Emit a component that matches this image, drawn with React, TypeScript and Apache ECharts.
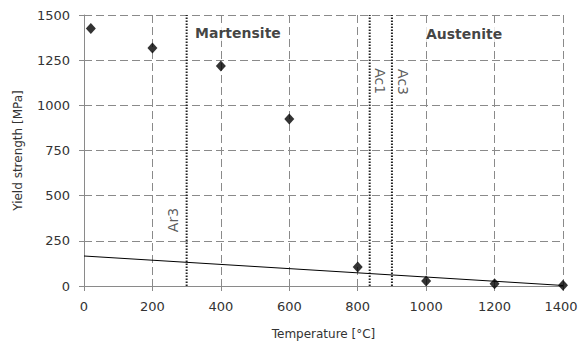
import React, { useEffect, useRef } from "react";
import * as echarts from "echarts";

const temperatures = [20, 200, 400, 600, 800, 1000, 1200, 1400];
const yieldStrength = [1425, 1318, 1218, 925, 105, 28, 12, 4];
const trendLine = [[0, 166], [1400, 3]];
const transitionNames = ["Ar3", "Ac1", "Ac3"];
const transitionTemps = [300, 835, 900];
const transitionLabelPos = [[260, 365], [866, 1134], [933, 1129]];
const transitionLabelRotate = [90, -90, -90];
const phaseNames = ["Martensite", "Austenite"];
const phaseLabelPos = [[450, 1400], [1111, 1395]];
const xTicks = [0, 1400, 200];
const yTicks = [0, 1500, 250];

const FONT = "DejaVu Sans";

export default function App() {
  const ref = useRef<HTMLDivElement>(null);
  useEffect(() => {
    const chart = echarts.init(ref.current!, null, { renderer: "svg" });
    const gridColor = "#8a8a8a";
    const series: any[] = [
      {
        type: "line",
        data: trendLine,
        symbol: "none",
        lineStyle: { color: "#000", width: 1 },
        z: 3,
      },
      ...transitionTemps.map((t) => ({
        type: "line",
        data: [[t, yTicks[0]], [t, yTicks[1]]],
        symbol: "none",
        lineStyle: { color: "#222", width: 2, type: [1.5, 1.5] },
        z: 2,
      })),
      {
        type: "scatter",
        data: temperatures.map((t, i) => [t, yieldStrength[i]]),
        symbol: "diamond",
        symbolSize: [10, 11],
        itemStyle: { color: "#000" },
        z: 5,
      },
      {
        type: "scatter",
        data: transitionNames.map((n, i) => ({
          value: transitionLabelPos[i],
          label: {
            show: true,
            position: "inside",
            formatter: n,
            rotate: transitionLabelRotate[i],
            fontFamily: FONT,
            fontSize: 14,
            color: "#333",
          },
        })),
        symbolSize: 1,
        itemStyle: { color: "transparent" },
        z: 6,
      },
      {
        type: "scatter",
        data: phaseNames.map((n, i) => ({
          value: phaseLabelPos[i],
          label: {
            show: true,
            position: "inside",
            formatter: n,
            fontFamily: FONT,
            fontSize: 14,
            fontWeight: "bold",
            color: "#111",
            backgroundColor: "#fff",
            padding: [1, 1],
          },
        })),
        symbolSize: 1,
        itemStyle: { color: "transparent" },
        z: 6,
      },
    ];
    chart.setOption({
      animation: false,
      grid: { left: 84, right: 15, top: 15, bottom: 60, outerBoundsMode: "none", containLabel: false },
      xAxis: {
        type: "value",
        min: xTicks[0],
        max: xTicks[1],
        interval: xTicks[2],
        name: "Temperature [°C]",
        nameLocation: "middle",
        nameGap: 42,
        nameTextStyle: { fontFamily: FONT, fontSize: 12, color: "#333" },
        axisLine: { lineStyle: { color: gridColor, width: 1 } },
        axisTick: { show: true, length: 5, lineStyle: { color: gridColor } },
        axisLabel: {
          fontFamily: FONT,
          fontSize: 13,
          color: "#333",
          margin: 14,
          formatter: (v: number) => (v === xTicks[1] ? "{last|" + v + "}" : String(v)),
          rich: { last: { fontFamily: FONT, fontSize: 13, color: "#333", padding: [0, 4, 0, 0] } },
        },
        splitLine: { show: true, lineStyle: { color: gridColor, type: [8, 4] } },
      },
      yAxis: {
        type: "value",
        min: yTicks[0],
        max: yTicks[1],
        interval: yTicks[2],
        name: "Yield strength [MPa]",
        nameLocation: "middle",
        nameGap: 60,
        nameTextStyle: { fontFamily: FONT, fontSize: 12, color: "#333" },
        axisLine: { show: true, lineStyle: { color: gridColor, width: 1 } },
        axisTick: { show: true, length: 5, lineStyle: { color: gridColor } },
        axisLabel: { fontFamily: FONT, fontSize: 13, color: "#333", margin: 14, formatter: (v: number) => String(v) },
        splitLine: { show: true, lineStyle: { color: gridColor, type: [8, 4] } },
      },
      series,
    });
    return () => chart.dispose();
  }, []);
  return <div ref={ref} style={{ width: 578, height: 346, position: "absolute", left: 0, top: 0 }} />;
}
